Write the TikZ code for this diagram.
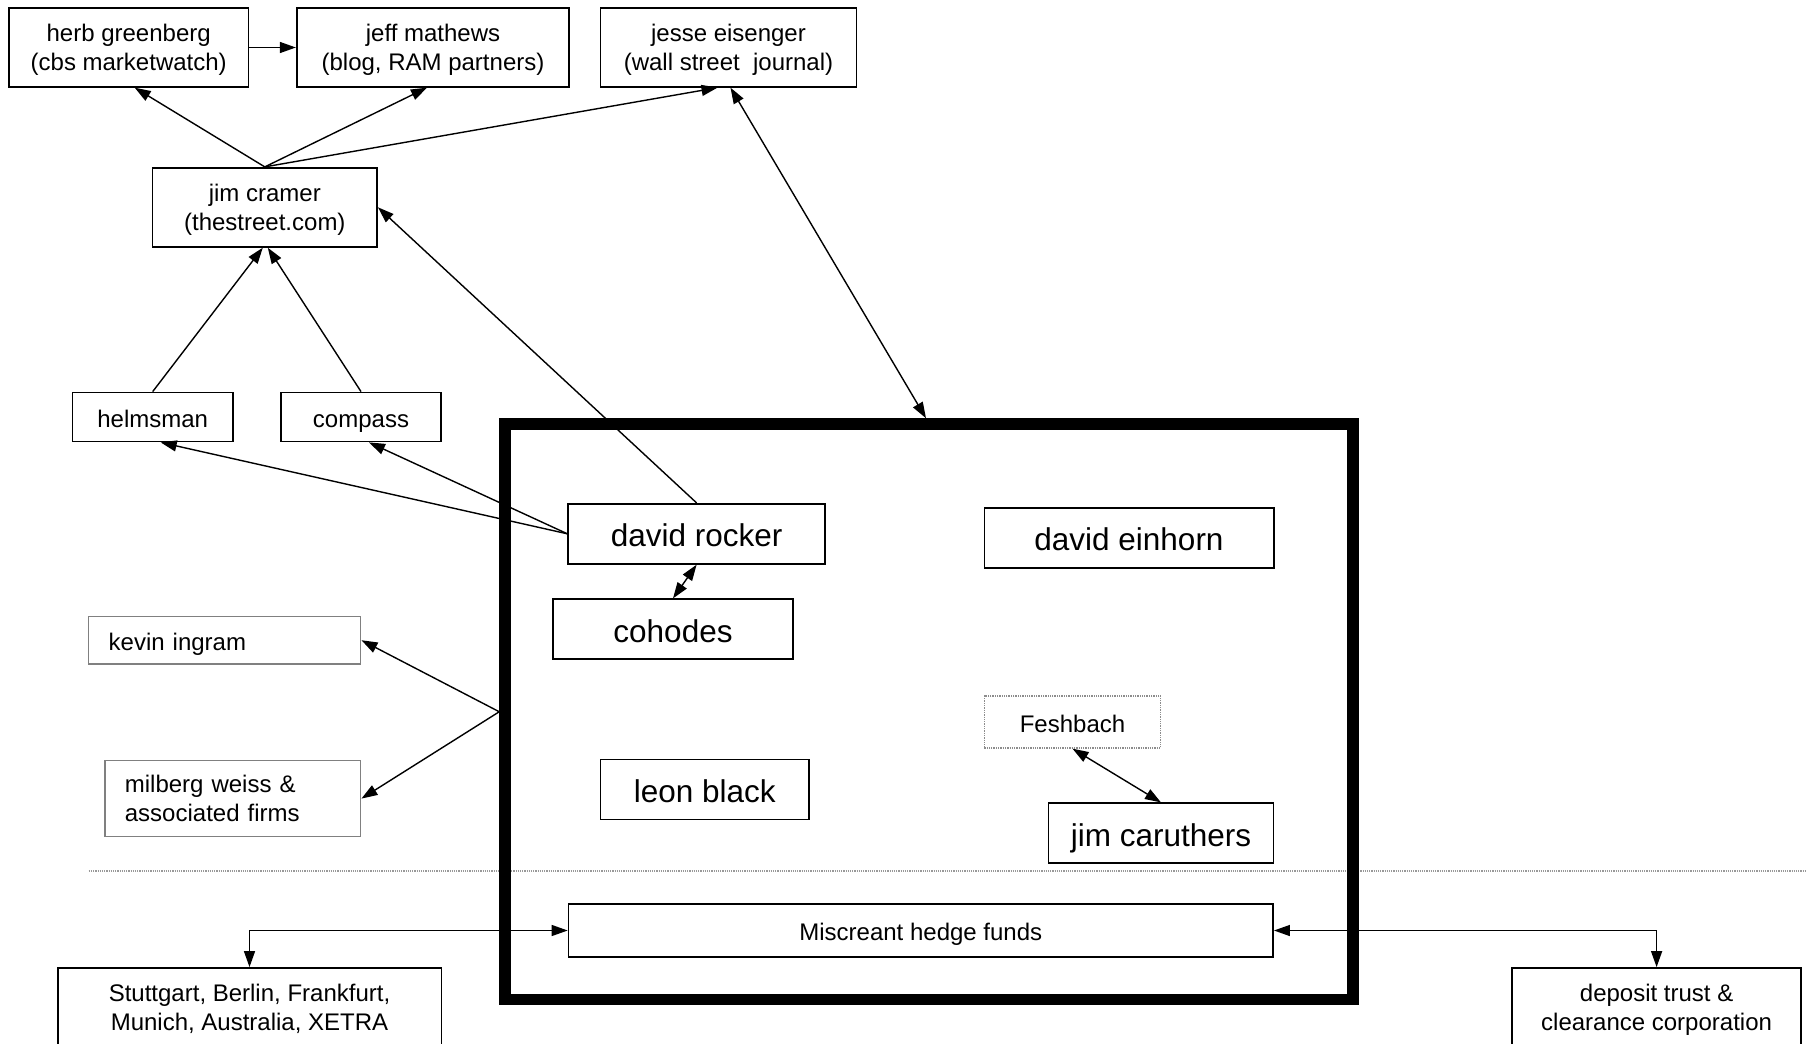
\documentclass[tikz,border=0pt]{standalone}
\usepackage{fontspec}
\setmainfont{Liberation Sans}
\usetikzlibrary{arrows.meta}
\begin{document}
\begin{tikzpicture}[x=1pt,y=-1pt,
  box/.style={draw, line width=1.8pt, inner sep=0pt, align=center, font=\fontsize{24}{28.8}\selectfont},
  bigtext/.style={font=\fontsize{31.5}{36}\selectfont, text height=29pt, text depth=3.6pt},
  oneline/.style={text height=22pt, text depth=2pt},
  twoline/.style={text height=48.8pt, text depth=3pt},
  twoleft/.style={text height=20pt, text depth=31.8pt},
  graybox/.style={draw=black!50, line width=1.5pt, inner sep=0pt, inner xsep=20pt, align=left, font=\fontsize{24}{28.8}\selectfont},
  dotbox/.style={draw=black!45, densely dotted, line width=1.3pt, inner sep=0pt, align=center, font=\fontsize{24}{28.8}\selectfont},
  con/.style={line width=1.4pt, -{Triangle[length=16pt,width=11pt]}},
  dcon/.style={line width=1.4pt, {Triangle[length=16pt,width=11pt]}-{Triangle[length=16pt,width=11pt]}},
]
\useasboundingbox (0,0) rectangle (1807,1044);
\clip (0,0) rectangle (1807,1044);
\fill[white] (0,0) rectangle (1807,1044);

% separator
\draw[black!40, densely dotted, line width=1.2pt] (88.7,871) -- (1807,871);

% big frame
\node (bigbox) [draw, line width=11.5pt, inner sep=0pt, minimum width=848pt, minimum height=575.5pt] at (929,711.75) {};

% top row
\node (herb) [box, twoline, minimum width=239.5pt, minimum height=78.5pt] at (128.7,47.5) {herb greenberg\\(cbs marketwatch)};
\node (jeff) [box, twoline, minimum width=272.5pt, minimum height=78.5pt] at (433,47.5) {jeff mathews\\(blog, RAM partners)};
\node (jesse) [box, twoline, minimum width=256pt, minimum height=78.5pt] at (728.5,47.5) {jesse eisenger\\(wall street\ \ journal)};
\node (cramer) [box, twoline, minimum width=224.5pt, minimum height=79pt] at (264.8,207.3) {jim cramer\\(thestreet.com)};
\node (helmsman) [box, oneline, minimum width=160.3pt, minimum height=49pt] at (152.7,417) {helmsman};
\node (compass) [box, oneline, minimum width=160pt, minimum height=49pt] at (361,417) {compass};

% left gray boxes
\node (kevin) [graybox, oneline, text width=232pt, minimum height=47.3pt] at (224.7,640.2) {kevin ingram};
\node (milberg) [graybox, twoleft, text width=215.8pt, minimum height=76pt] at (232.8,798.6) {milberg weiss \&\\associated firms};

% inside big box
\node (rocker) [box, bigtext, minimum width=256.7pt, minimum height=60pt] at (696.6,533.8) {david rocker};
\node (cohodes) [box, bigtext, minimum width=239.7pt, minimum height=60pt] at (673,629.3) {cohodes};
\node (leon) [box, bigtext, minimum width=208.6pt, minimum height=60pt] at (704.7,789.4) {leon black};
\node (einhorn) [box, bigtext, minimum width=289.2pt, minimum height=60.6pt] at (1129,538) {david einhorn};
\node (fesh) [dotbox, oneline, minimum width=176.5pt, minimum height=52pt] at (1072.5,722) {Feshbach};
\node (caruthers) [box, bigtext, minimum width=225pt, minimum height=60pt] at (1161,833.3) {jim caruthers};
\node (misc) [box, oneline, minimum width=704.5pt, minimum height=53.5pt] at (920.8,930.5) {Miscreant hedge funds};

% bottom boxes
\node (stutt) [box, twoline, minimum width=383.8pt, minimum height=79pt] at (249.5,1007.5) {Stuttgart, Berlin, Frankfurt,\\Munich, Australia, XETRA};
\node (dtc) [box, twoline, minimum width=289pt, minimum height=79pt] at (1656.6,1007.5) {deposit trust \&\\clearance corporation};

% connectors
\draw[con] (herb.east) -- (jeff.west);
\draw[con] (cramer.north) -- ([xshift=6pt]herb.south);
\draw[con] (cramer.north) -- ([xshift=-6pt]jeff.south);
\draw[con] (cramer.north) -- ([xshift=-11pt]jesse.south);
\draw[dcon] ([xshift=2pt]jesse.south) -- ([xshift=-3pt]bigbox.north);
\draw[con] (helmsman.north) -- ([xshift=-2pt]cramer.south);
\draw[con] (compass.north) -- ([xshift=3pt]cramer.south);
\draw[con] (rocker.north) -- (cramer.east);
\draw[con] (rocker.west) -- ([xshift=8pt]helmsman.south);
\draw[con] (rocker.west) -- ([xshift=8pt]compass.south);
\draw[dcon] (rocker.south) -- (cohodes.north);
\draw[con] (bigbox.west) -- (kevin.east);
\draw[con] (bigbox.west) -- (milberg.east);
\draw[dcon] (fesh.south) -- (caruthers.north);
\draw[dcon] (misc.west) -| (stutt.north);
\draw[dcon] (misc.east) -| (dtc.north);
\end{tikzpicture}
\end{document}
